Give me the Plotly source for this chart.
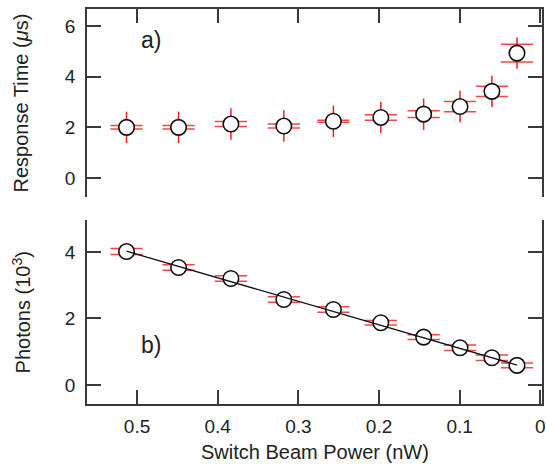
import plotly.graph_objects as go

# ---- data ----
power = [0.513, 0.4485, 0.3836, 0.318, 0.2566, 0.1978, 0.1447, 0.0996, 0.0601, 0.029]
power_err = [0.02, 0.02, 0.02, 0.02, 0.02, 0.02, 0.02, 0.02, 0.02, 0.02]

response = [2.0, 2.0, 2.13, 2.05, 2.24, 2.39, 2.52, 2.82, 3.42, 4.93]
response_err = [0.62, 0.62, 0.62, 0.62, 0.62, 0.62, 0.62, 0.62, 0.62, 0.62]
response_band = [0.07, 0.07, 0.10, 0.08, 0.04, 0.11, 0.13, 0.20, 0.20, 0.35]

photons = [4.01, 3.53, 3.20, 2.57, 2.27, 1.87, 1.44, 1.12, 0.82, 0.59]
photons_band = [0.09, 0.08, 0.08, 0.08, 0.08, 0.07, 0.07, 0.08, 0.08, 0.07]

fit_x = [0.513, 0.029]
fit_y = [4.02, 0.60]

x_ticks = [0.5, 0.4, 0.3, 0.2, 0.1, 0]
x_ticklabels = ["0.5", "0.4", "0.3", "0.2", "0.1", "0"]
resp_ticks = [0, 2, 4, 6]
phot_ticks = [0, 2, 4]

RED = "#f02020"
RED_H = "rgba(240,40,40,0.85)"
TXT = "#222222"
AX = "#3a3a3a"
FONT = "Liberation Sans, Arial, Helvetica, sans-serif"
FS = 19
FT = 20

fig = go.Figure()

def band_traces(yvals, band, xa, ya):
    for sgn in (1, -1):
        fig.add_trace(go.Scatter(
            x=power, y=[v + sgn * b for v, b in zip(yvals, band)],
            mode="markers", marker=dict(size=1, opacity=0),
            error_x=dict(type="data", array=power_err, visible=True,
                         color=RED_H, thickness=1.5, width=0),
            xaxis=xa, yaxis=ya, showlegend=False, hoverinfo="skip"))

# top panel (a)
band_traces(response, response_band, "x2", "y2")
fig.add_trace(go.Scatter(
    x=power, y=response, mode="markers",
    marker=dict(symbol="circle", size=15.5, color="white",
                line=dict(color="#111111", width=1.6)),
    error_y=dict(type="data", array=response_err, visible=True,
                 color=RED, thickness=1.5, width=0),
    xaxis="x2", yaxis="y2", showlegend=False))

# bottom panel (b)
band_traces(photons, photons_band, "x", "y")
fig.add_trace(go.Scatter(
    x=power, y=photons, mode="markers",
    marker=dict(symbol="circle", size=15.5, color="white",
                line=dict(color="#111111", width=1.6)),
    xaxis="x", yaxis="y", showlegend=False))
fig.add_trace(go.Scatter(
    x=fit_x, y=fit_y, mode="lines",
    line=dict(color="#111111", width=1.3),
    xaxis="x", yaxis="y", showlegend=False))

common_axis = dict(showline=True, linecolor=AX, linewidth=1.5,
                   ticks="inside", ticklen=14, tickwidth=1.5, tickcolor=AX,
                   showgrid=False, zeroline=False, automargin=False,
                   tickfont=dict(family=FONT, size=FS, color=TXT))

XR = [0.562, -0.002]

fig.update_layout(
    template="none",
    width=546, height=465,
    margin=dict(l=87, r=4, t=9, b=61, pad=0),
    paper_bgcolor="white", plot_bgcolor="white",
    font=dict(family=FONT, size=FS, color=TXT),
    xaxis=dict(common_axis, range=XR, domain=[0, 1], anchor="y",
               tickvals=x_ticks, ticktext=x_ticklabels, mirror=False,
               ticklabelstandoff=4, ticklabeloverflow="allow"),
    yaxis=dict(common_axis, range=[-0.57, 4.96], domain=[0, 0.466],
               anchor="x", tickvals=phot_ticks, mirror="ticks",
               ticklabelstandoff=6),
    xaxis2=dict(common_axis, range=XR, domain=[0, 1], anchor="y2",
                side="top", tickvals=x_ticks, showticklabels=False,
                mirror=False),
    yaxis2=dict(common_axis, range=[-0.75, 6.67], domain=[0.524, 1],
                anchor="x2", tickvals=resp_ticks, mirror="ticks",
                ticklabelstandoff=6),
    annotations=[
        dict(text="a)", x=0.483, y=5.45, xref="x2", yref="y2",
             showarrow=False, font=dict(family=FONT, size=23, color=TXT)),
        dict(text="b)", x=0.483, y=1.2, xref="x", yref="y",
             showarrow=False, font=dict(family=FONT, size=23, color=TXT)),
        dict(text="Response Time (<i>μ</i>s)", textangle=-90,
             x=-0.144, y=0.762, xref="paper", yref="paper",
             xanchor="center", yanchor="middle", showarrow=False,
             font=dict(family=FONT, size=FT, color=TXT)),
        dict(text="Photons (10<sup>3</sup>)", textangle=-90,
             x=-0.144, y=0.233, xref="paper", yref="paper",
             xanchor="center", yanchor="middle", showarrow=False,
             font=dict(family=FONT, size=FT, color=TXT)),
        dict(text="Switch Beam Power (nW)",
             x=0.5, y=-0.122, xref="paper", yref="paper",
             xanchor="center", yanchor="middle", showarrow=False,
             font=dict(family=FONT, size=FT, color=TXT)),
    ],
)

fig.write_html("out.html",
               config={"displayModeBar": False},
               post_script="document.body.style.margin='0';"
                           "document.body.style.overflow='hidden';")
